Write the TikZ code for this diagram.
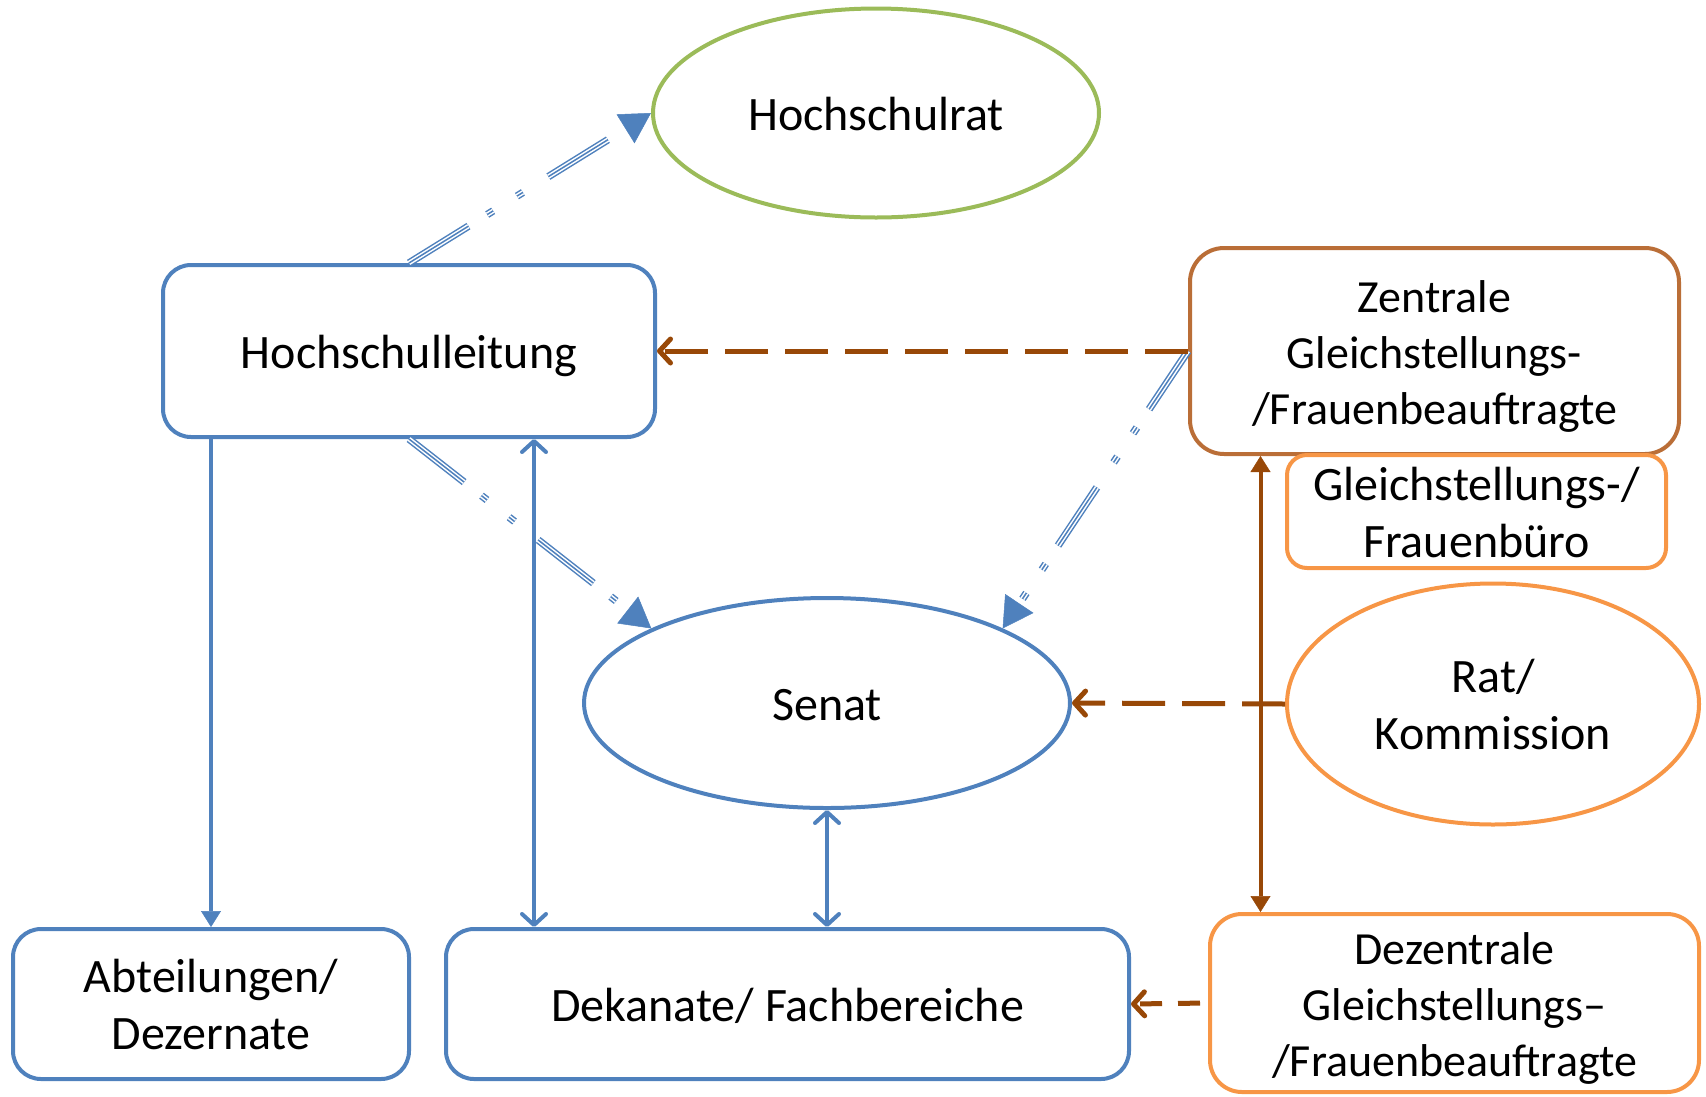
\documentclass[tikz,border=0pt]{standalone}
\usepackage{fontspec}
\setmainfont{Carlito}
\usetikzlibrary{arrows.meta,shapes.geometric}
\definecolor{ofblue}{RGB}{79,129,189}
\definecolor{ofgreen}{RGB}{155,187,89}
\definecolor{oforange}{RGB}{247,150,70}
\definecolor{ofbrown}{RGB}{186,110,55}
\definecolor{arrbrown}{RGB}{152,72,7}
\newcommand\topstrut{\rule{0pt}{45pt}}
\newcommand\botstrut{\rule[-11pt]{0pt}{11pt}}
\tikzset{
  lbl/.style={align=center, inner sep=0pt, font=\fontsize{48}{57}\selectfont},
  smallfont/.style={font=\fontsize{46}{56}\selectfont},
  box/.style={lbl, draw, line width=4pt, rounded corners=28pt},
  ell/.style={lbl, ellipse, draw, line width=4pt},
  barb/.tip={Straight Barb[length=11pt, width=24pt, round]},
  ftri/.tip={Triangle[length=16pt, width=20pt, line width=0.5pt]},
  btri/.tip={Triangle[length=30pt, width=34pt, line width=0.5pt]},
  blueline/.style={draw=ofblue, line width=4pt},
  brownline/.style={draw=arrbrown, line width=4pt},
  browndash/.style={draw=arrbrown, line width=5pt, dash pattern=on 43pt off 17pt},
  triline/.style={draw=ofblue, line width=7.5pt,
    dash pattern=on 70pt off 22pt on 7pt off 28pt on 7pt off 30pt, -btri,
    postaction={draw=white, line width=4.5pt, -, shorten >=30pt},
    postaction={draw=ofblue, line width=1.5pt, -, shorten >=30pt}}
}
\begin{document}
\begin{tikzpicture}[x=1pt, y=-1pt]
\useasboundingbox (0,0) rectangle (1706,1096);
% nodes
\node[ell, draw=ofgreen, minimum width=446pt, minimum height=209pt] (hr) at (876,113) {\topstrut Hochschulrat\botstrut};
\node[box, draw=ofblue, minimum width=492pt, minimum height=172pt] (hl) at (409,351) {\topstrut Hochschulleitung\botstrut};
\node[box, smallfont, draw=ofbrown, rounded corners=34pt, minimum width=489pt, minimum height=206pt] (zen) at (1434.5,351) {\topstrut Zentrale\\Gleichstellungs-\\/Frauenbeauftragte\botstrut};
\node[box, draw=oforange, rounded corners=20pt, minimum width=379pt, minimum height=113pt] (buero) at (1476.5,511.5) {\topstrut Gleichstellungs-/\\Frauenbüro\botstrut};
\node[ell, draw=ofblue, minimum width=486pt, minimum height=210pt] (senat) at (827,703) {\topstrut Senat\botstrut};
\node[ell, draw=oforange, minimum width=412pt, minimum height=241pt] (rat) at (1493,704) {\topstrut Rat/\\Kommission\botstrut};
\node[box, draw=ofblue, minimum width=396pt, minimum height=150pt] (abt) at (211,1004) {\topstrut Abteilungen/\\Dezernate\botstrut};
\node[box, draw=ofblue, minimum width=683pt, minimum height=150pt] (dek) at (787.5,1004) {\topstrut Dekanate/ Fachbereiche\botstrut};
\node[box, smallfont, draw=oforange, rounded corners=32pt, minimum width=489pt, minimum height=178pt] (dez) at (1454.5,1003) {\topstrut Dezentrale\\Gleichstellungs–\\/Frauenbeauftragte\botstrut};
% connectors
\draw[triline] (hl.north) -- (hr.west);
\draw[triline] (hl.south) -- (senat.157);
\draw[triline] (zen.west) -- (senat.23);
\draw[blueline, -ftri] (hl.south -| abt.north) -- (abt.north);
\draw[blueline, barb-barb] ([xshift=125pt]hl.south) -- ([xshift=125pt]hl.south |- dek.north);
\draw[blueline, barb-barb] (senat.south) -- (senat.south |- dek.north);
\draw[brownline, ftri-ftri] ([xshift=-174pt]zen.south) -- ([xshift=-174pt]zen.south |- dez.north);
\draw[browndash, -barb] (zen.west) -- (hl.east);
\draw[browndash, -barb] (rat.west) -- (senat.east);
\draw[browndash, dash pattern=on 22pt off 16pt, shorten <=8pt, -barb] (dez.west) -- (dek.east);
\end{tikzpicture}
\end{document}
